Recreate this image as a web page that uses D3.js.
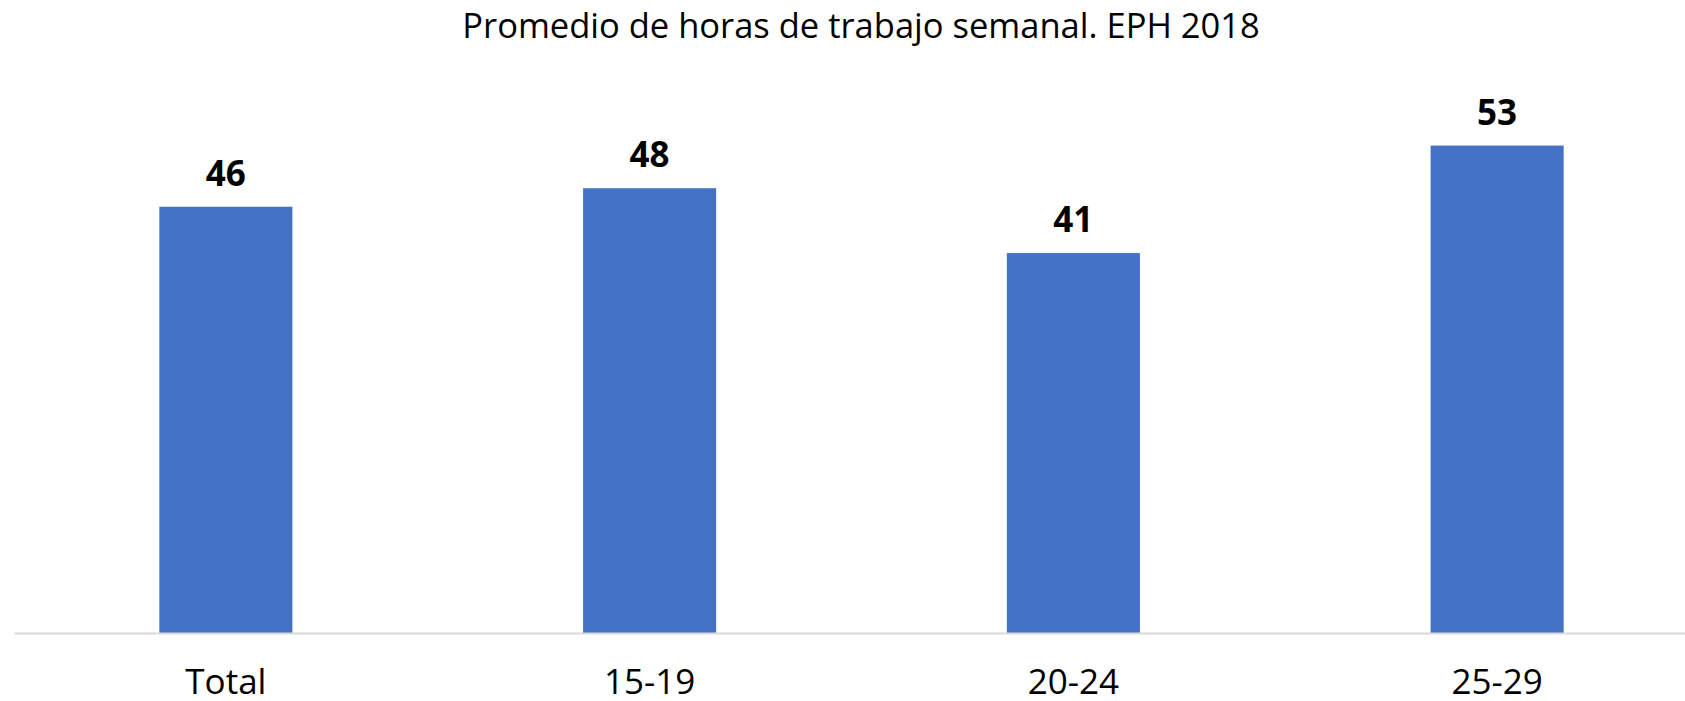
<!DOCTYPE html>
<html>
<head>
<meta charset="utf-8">
<script src="https://cdn.jsdelivr.net/npm/d3@7"></script>
<style>
  body { margin: 0; background: #fff; }
  text { font-family: "Open Sans", sans-serif; }
</style>
</head>
<body>
<script>
const categories = ["Total", "15-19", "20-24", "25-29"];
const values = [46.0, 48.0, 41.0, 52.6];
const title = "Promedio de horas de trabajo semanal. EPH 2018";

const width = 1685;
const height = 701;
const baseY = 633;

const svg = d3.select("body").append("svg")
    .attr("width", width)
    .attr("height", height);

const x = d3.scaleBand()
    .domain(categories)
    .range([14, 1709])
    .paddingInner(0.686)
    .paddingOuter(0.343);

const y = d3.scaleLinear()
    .domain([0, 60])
    .range([baseY, 77]);

// title
svg.append("text")
    .attr("x", 861)
    .attr("y", 38)
    .attr("text-anchor", "middle")
    .style("font-size", "34.5px")
    .style("fill", "#000")
    .text(title);

// bars
svg.selectAll(".bar")
    .data(values)
    .enter().append("rect")
    .attr("class", "bar")
    .attr("x", (d, i) => x(categories[i]))
    .attr("y", d => y(d))
    .attr("width", x.bandwidth())
    .attr("height", d => baseY - y(d))
    .style("fill", "#4472C4");

// value labels
svg.selectAll(".label")
    .data(values)
    .enter().append("text")
    .attr("class", "label")
    .attr("x", (d, i) => x(categories[i]) + x.bandwidth() / 2)
    .attr("y", d => y(d) - 21)
    .attr("text-anchor", "middle")
    .style("font-size", "35px")
    .style("font-weight", "bold")
    .style("fill", "#000")
    .text(d => d3.format(".0f")(d));

// x axis
const xAxis = svg.append("g")
    .attr("transform", "translate(0," + baseY + ")")
    .call(d3.axisBottom(x).tickSize(0).tickPadding(0));
xAxis.select(".domain")
    .attr("stroke", "#D9D9D9")
    .attr("stroke-width", 2);
xAxis.selectAll(".tick text")
    .attr("dy", null)
    .attr("y", 61)
    .style("font-size", "35px")
    .style("font-family", "'Open Sans', sans-serif")
    .style("fill", "#000");
</script>
</body>
</html>
